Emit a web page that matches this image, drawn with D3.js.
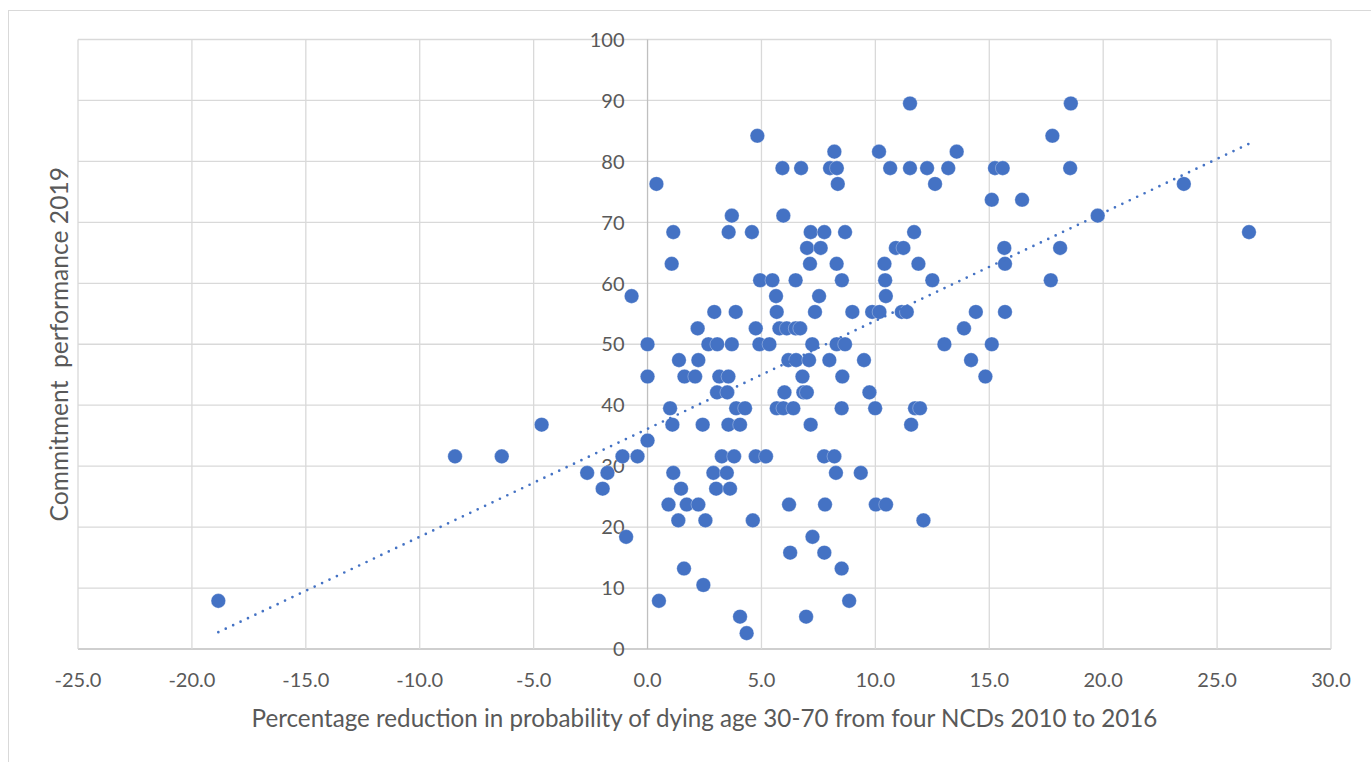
<!DOCTYPE html>
<html>
<head>
<meta charset="utf-8">
<script src="https://cdn.jsdelivr.net/npm/d3@7/dist/d3.min.js"></script>
<style>
  html, body { margin: 0; padding: 0; background: #ffffff; }
  svg { display: block; }
  text { font-family: Lato, "Open Sans", sans-serif; fill: #595959; }
</style>
</head>
<body>
<svg id="chart" width="1371" height="762"></svg>
<script>
// ---- Data ----
// Commitment performance 2019 levels (y), top to bottom
const commitmentLevels = [89.5, 84.2, 81.6, 78.9, 76.3, 73.7, 71.1, 68.4, 65.8, 63.2, 60.5, 57.9, 55.3, 52.6, 50.0,
  47.4, 44.7, 42.1, 39.5, 36.8, 34.2, 31.6, 28.9, 26.3, 23.7, 21.1, 18.4, 15.8, 13.2, 10.5, 7.9, 5.3, 2.6];
// Percentage reduction in probability of dying (x) for countries at each level above
const reductionsAtLevel = [
  [11.52, 18.58],
  [4.82, 17.77],
  [8.20, 10.16, 13.57],
  [5.92, 6.74, 8.01, 8.31, 10.65, 11.52, 12.27, 13.20, 15.25, 15.59, 18.55],
  [0.39, 8.35, 12.62, 23.54],
  [15.11, 16.44],
  [3.70, 5.96, 19.76],
  [1.13, 3.56, 4.58, 7.16, 7.76, 8.67, 11.70, 26.40],
  [7.00, 7.60, 10.90, 11.23, 15.66, 18.11],
  [1.06, 7.13, 8.30, 10.40, 11.89, 15.69],
  [4.94, 5.48, 6.50, 8.53, 10.43, 12.50, 17.70],
  [-0.70, 5.64, 7.53, 10.46],
  [2.93, 3.87, 5.67, 7.35, 8.99, 9.86, 10.18, 11.16, 11.38, 14.41, 15.69],
  [2.20, 4.75, 5.79, 6.11, 6.50, 6.70, 13.89],
  [0.00, 2.67, 3.06, 3.70, 4.91, 5.35, 7.23, 8.30, 8.67, 13.03, 15.11],
  [1.38, 2.23, 6.18, 6.52, 7.09, 7.98, 9.50, 14.20],
  [0.00, 1.62, 2.09, 3.15, 3.55, 6.80, 8.55, 14.83],
  [3.05, 3.50, 6.01, 6.84, 6.99, 9.74],
  [0.99, 3.89, 4.28, 5.67, 5.96, 6.40, 8.52, 9.99, 11.74, 11.96],
  [-4.65, 1.09, 2.42, 3.55, 4.06, 7.16, 11.57],
  [0.00],
  [-8.45, -6.40, -1.10, -0.44, 3.26, 3.80, 4.75, 5.20, 7.75, 8.20],
  [-2.65, -1.76, 1.13, 2.89, 3.48, 8.27, 9.36],
  [-1.97, 1.47, 3.01, 3.62],
  [0.92, 1.72, 2.23, 6.21, 7.79, 10.02, 10.47],
  [1.35, 2.54, 4.62, 12.11],
  [-0.94, 7.24],
  [6.26, 7.76],
  [1.60, 8.52],
  [2.45],
  [-18.84, 0.50, 8.85],
  [4.06, 6.96],
  [4.35]
];
const xTicks = [-25, -20, -15, -10, -5, 0, 5, 10, 15, 20, 25, 30];
const yTicks = [0, 10, 20, 30, 40, 50, 60, 70, 80, 90, 100];
const xTitle = "Percentage reduction in probability of dying age 30-70 from four NCDs 2010 to 2016";
const yTitle = "Commitment\u00A0 performance 2019";

// flatten into points
const points = [];
commitmentLevels.forEach((lvl, i) => reductionsAtLevel[i].forEach(x => points.push({x: x, y: lvl})));

// ---- Layout ----
const svg = d3.select("#chart");
const plot = {left: 78, right: 1331, top: 39.5, bottom: 649};
const x = d3.scaleLinear().domain([-25, 30]).range([plot.left, plot.right]);
const y = d3.scaleLinear().domain([0, 100]).range([plot.bottom, plot.top]);

const blue = "#4472C4";
const grid = "#d9d9d9";
const axisCol = "#bfbfbf";

// outer chart frame
svg.append("rect").attr("x", 8.5).attr("y", 10.5).attr("width", 1400).attr("height", 800)
  .attr("fill", "none").attr("stroke", grid).attr("stroke-width", 1);

// gridlines
svg.append("g").selectAll("line").data(yTicks).join("line")
  .attr("x1", plot.left).attr("x2", plot.right)
  .attr("y1", d => y(d)).attr("y2", d => y(d))
  .attr("stroke", d => d === 0 ? axisCol : grid).attr("stroke-width", 1.3);
svg.append("g").selectAll("line").data(xTicks).join("line")
  .attr("y1", plot.top).attr("y2", plot.bottom)
  .attr("x1", d => x(d)).attr("x2", d => x(d))
  .attr("stroke", d => d === 0 ? axisCol : grid).attr("stroke-width", 1.3);

// x tick labels
svg.append("g").selectAll("text").data(xTicks).join("text")
  .attr("x", d => x(d)).attr("y", 687)
  .attr("text-anchor", "middle").attr("font-size", 20)
  .text(d => d3.format(".1f")(d).replace("\u2212", "-"));

// y tick labels (at the x = 0 axis)
svg.append("g").selectAll("text").data(yTicks).join("text")
  .attr("x", x(0) - 23).attr("y", d => y(d)).attr("dy", "0.36em")
  .attr("text-anchor", "end").attr("font-size", 20)
  .text(d => d);

// axis titles
svg.append("text").attr("x", (plot.left + plot.right) / 2).attr("y", 727)
  .attr("text-anchor", "middle").attr("font-size", 24.2).text(xTitle);
svg.append("text").attr("transform", `translate(68,${(plot.top + plot.bottom) / 2}) rotate(-90)`)
  .attr("text-anchor", "middle").attr("font-size", 24.6).text(yTitle);

// linear trendline (least squares on the points)
const mx = d3.mean(points, d => d.x), my = d3.mean(points, d => d.y);
const slope = d3.sum(points, d => (d.x - mx) * (d.y - my)) / d3.sum(points, d => (d.x - mx) ** 2);
const icpt = my - slope * mx;
const xr = d3.extent(points, d => d.x);

// markers
svg.append("g").selectAll("circle").data(points).join("circle")
  .attr("cx", d => x(d.x)).attr("cy", d => y(d.y)).attr("r", 7.3)
  .attr("fill", blue).attr("stroke", "#ffffff").attr("stroke-opacity", 0.5).attr("stroke-width", 0.6);

svg.append("path")
  .attr("d", d3.line().x(d => x(d)).y(d => y(icpt + slope * d))(xr))
  .attr("fill", "none").attr("stroke", blue).attr("stroke-width", 2.7)
  .attr("stroke-linecap", "round").attr("stroke-dasharray", "0,8.2");
</script>
</body>
</html>
